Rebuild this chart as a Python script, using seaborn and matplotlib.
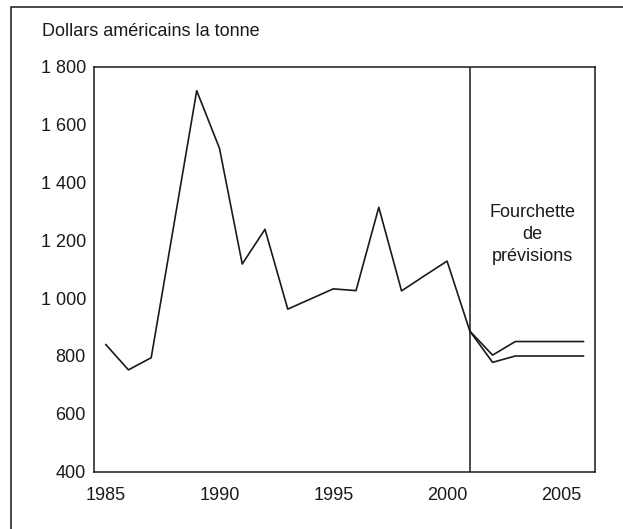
import matplotlib
matplotlib.use("Agg")
import matplotlib.pyplot as plt
import seaborn as sns
import pandas as pd
from matplotlib.patches import Rectangle
from matplotlib.ticker import FuncFormatter, MultipleLocator

# ---- data ----
years_hist = [1985, 1986, 1987, 1988, 1989, 1990, 1991, 1992, 1993, 1994,
              1995, 1996, 1997, 1998, 1999, 2000, 2001]
price_hist = [840, 752, 794, 1255, 1717, 1518, 1118, 1238, 962, 997,
              1032, 1026, 1314, 1025, 1077, 1128, 886]
years_fc = [2001, 2002, 2003, 2004, 2005, 2006]
fc_high = [886, 803, 850, 850, 850, 850]
fc_low = [886, 778, 800, 800, 800, 800]
y_ticks = [400, 600, 800, 1000, 1200, 1400, 1600, 1800]
x_ticks = [1985, 1990, 1995, 2000, 2005]
y_label = "Dollars américains la tonne"
fc_label = "Fourchette\nde\nprévisions"
fc_start = 2001

df = pd.concat([
    pd.DataFrame({"annee": years_hist, "prix": price_hist, "serie": "hist"}),
    pd.DataFrame({"annee": years_fc, "prix": fc_high, "serie": "haut"}),
    pd.DataFrame({"annee": years_fc, "prix": fc_low, "serie": "bas"}),
], ignore_index=True)

sns.set_style("white")
plt.rcParams["font.family"] = ["Liberation Sans", "DejaVu Sans"]

ink = "#1a1a1a"
fs = 13
fig = plt.figure(figsize=(6.23, 5.29), dpi=100)
ax = fig.add_axes([94.3 / 623, 1 - 471.7 / 529, (595 - 94.3) / 623, (471.7 - 66.7) / 529])

sns.lineplot(data=df, x="annee", y="prix", hue="serie", units="serie",
             estimator=None, palette={"hist": ink, "haut": ink, "bas": ink},
             linewidth=1.2, legend=False, ax=ax)

ax.axvline(fc_start, color=ink, linewidth=1.1)

ax.set_xlim(1984.5, 2006.5)
ax.set_ylim(400, 1800)
ax.set_xticks(x_ticks)
ax.xaxis.set_minor_locator(MultipleLocator(1))
ax.set_yticks(y_ticks)
ax.yaxis.set_major_formatter(FuncFormatter(lambda v, p: f"{int(v):,}".replace(",", " ")))
ax.set_xlabel("")
ax.set_ylabel("")

ax.tick_params(axis="x", which="major", direction="inout", length=9, width=1.0,
               color=ink, labelsize=fs, pad=6.5, labelcolor=ink)
ax.tick_params(axis="x", which="minor", direction="in", length=5.5, width=0.9, color=ink)
ax.tick_params(axis="y", which="both", length=0, labelsize=fs, pad=6, labelcolor=ink)

for s in ax.spines.values():
    s.set_color(ink)
    s.set_linewidth(1.1)
    s.set_visible(True)

ax.text((fc_start + 2006.5) / 2, 1220, fc_label, ha="center", va="center",
        fontsize=fs, color=ink, linespacing=1.35)

fig.text(42 / 623, 1 - 32 / 529, y_label, ha="left", va="center",
         fontsize=fs, color=ink)

# outer frame (extends beyond right and bottom edges)
fig.patches.append(Rectangle((11 / 623, -0.05), 1.2, 1 - 6.7 / 529 + 0.05,
                             transform=fig.transFigure, fill=False,
                             edgecolor=ink, linewidth=1.1, clip_on=False))

fig.savefig("out.png", dpi=100)
